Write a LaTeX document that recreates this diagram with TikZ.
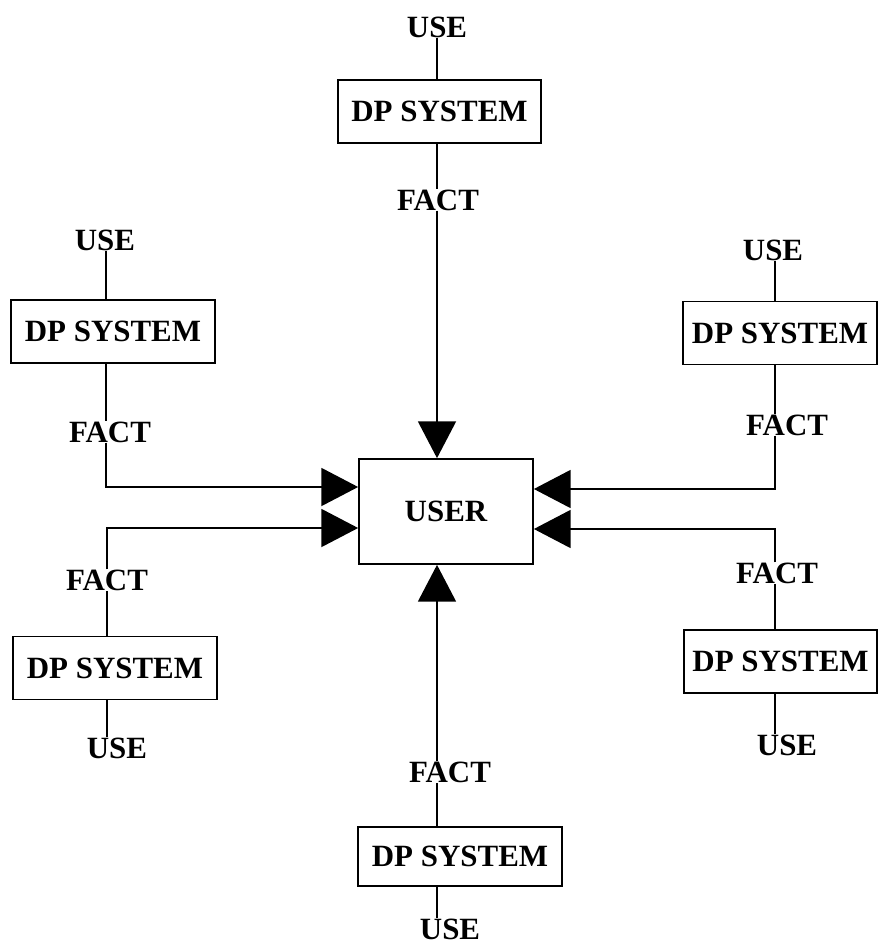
\documentclass[tikz,border=0pt]{standalone}
\usepackage{fontspec}
\setmainfont{Liberation Serif}
\usetikzlibrary{arrows.meta}
\newcommand{\lblfont}{\fontsize{22}{26}\selectfont\bfseries}
\tikzset{
  sysbox/.style={draw, line width=1.2pt, minimum width=#1, minimum height=1.575cm, inner sep=0pt, font=\lblfont},
  sysbox/.default={5.1cm},
  userbox/.style={draw, line width=1.2pt, minimum width=4.35cm, minimum height=2.625cm, inner sep=0pt, font=\lblfont},
  flow/.style={inner sep=0pt, font=\lblfont},
  link/.style={line width=1.2pt},
  arrow/.style={-{Triangle[length=0.92cm,width=0.95cm]}, line width=1.2pt}
}
\begin{document}
\begin{tikzpicture}[x=0.025cm, y=-0.025cm]
  \useasboundingbox (0,0) rectangle (878,946);
  % centre
  \node[userbox] (user) at (446,511.5) {USER};
  % the six systems
  \node[sysbox=5.075cm] (d1) at (439.5,111.5) {DP SYSTEM};
  \node[sysbox] (d2) at (113,331.5) {DP SYSTEM};
  \node[sysbox=4.85cm] (d3) at (780,333) {DP SYSTEM};
  \node[sysbox] (d4) at (115,668) {DP SYSTEM};
  \node[sysbox=4.83cm] (d5) at (780.5,661.5) {DP SYSTEM};
  \node[sysbox, minimum height=1.475cm] (d6) at (460,856.5) {DP SYSTEM};
  % labels
  \node[flow] (u1) at (437,27) {USE};
  \node[flow] (f1) at (438,200) {FACT};
  \node[flow] (u2) at (105,240) {USE};
  \node[flow] (f2) at (110,432) {FACT};
  \node[flow] (u3) at (773,250) {USE};
  \node[flow] (f3) at (787,425) {FACT};
  \node[flow] (f4) at (107,580) {FACT};
  \node[flow] (u4) at (117,748) {USE};
  \node[flow] (f5) at (777,573) {FACT};
  \node[flow] (u5) at (787,745) {USE};
  \node[flow] (f6) at (450,772) {FACT};
  \node[flow] (u6) at (450,929) {USE};
  % bends of the lines
  \coordinate (k1) at (437,0);
  \coordinate (k2) at (106,487);
  \coordinate (k3) at (775,489);
  \coordinate (k4) at (107,528);
  \coordinate (k5) at (775,529);
  \coordinate (k6) at (437,0);
  % top
  \draw[link] (u1.south -| k1) -- (d1.north -| k1);
  \draw[link] (d1.south -| k1) -- (f1.north -| k1);
  \draw[arrow] (f1.south -| k1) -- (k1 |- user.north);
  % upper left
  \draw[link] (u2.south -| k2) -- (d2.north -| k2);
  \draw[link] (d2.south -| k2) -- (f2.north -| k2);
  \draw[arrow] (f2.south -| k2) -- (k2) -- (k2 -| user.west);
  % upper right
  \draw[link] (u3.south -| k3) -- (d3.north -| k3);
  \draw[link] (d3.south -| k3) -- (f3.north -| k3);
  \draw[arrow] (f3.south -| k3) -- (k3) -- (k3 -| user.east);
  % lower left
  \draw[link] (u4.north -| k4) -- (d4.south -| k4);
  \draw[link] (d4.north -| k4) -- (f4.south -| k4);
  \draw[arrow] (f4.north -| k4) -- (k4) -- (k4 -| user.west);
  % lower right
  \draw[link] (u5.north -| k5) -- (d5.south -| k5);
  \draw[link] (d5.north -| k5) -- (f5.south -| k5);
  \draw[arrow] (f5.north -| k5) -- (k5) -- (k5 -| user.east);
  % bottom
  \draw[link] (u6.north -| k6) -- (d6.south -| k6);
  \draw[link] (d6.north -| k6) -- (f6.south -| k6);
  \draw[arrow] (f6.north -| k6) -- (k6 |- user.south);
\end{tikzpicture}
\end{document}
